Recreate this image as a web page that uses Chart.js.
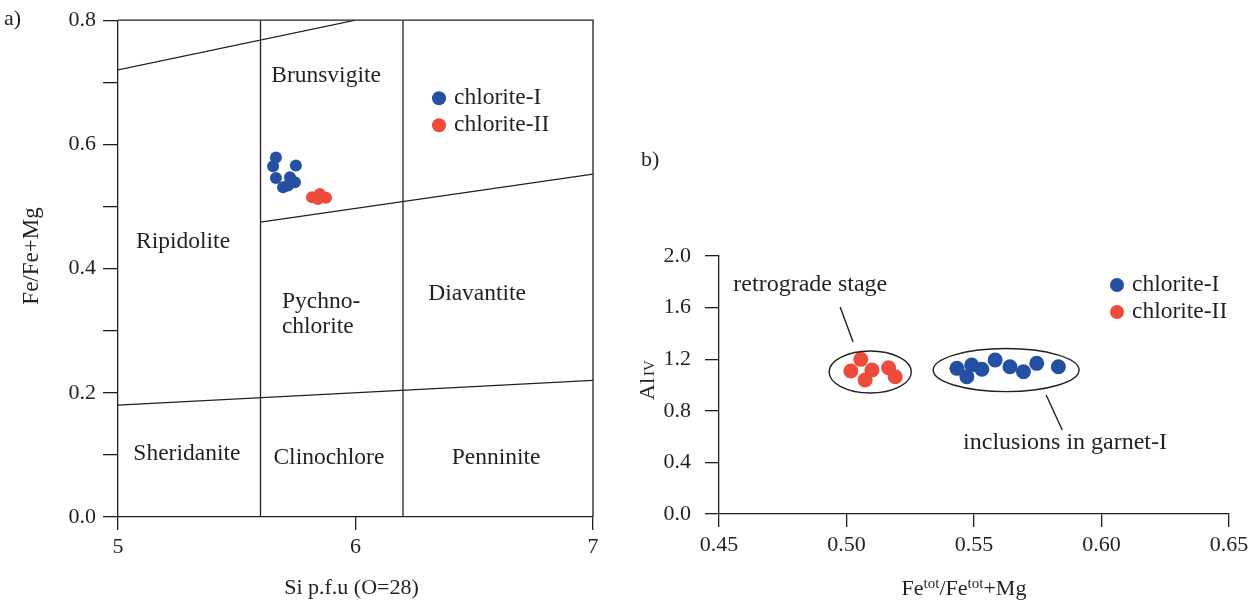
<!DOCTYPE html>
<html>
<head>
<meta charset="utf-8">
<script src="https://cdn.jsdelivr.net/npm/chart.js@4.4.1/dist/chart.umd.min.js"></script>
<style>
  html, body { margin: 0; padding: 0; background: #fff; }
  #wrap { position: relative; width: 1259px; height: 602px; overflow: hidden; }
  #panelA { position: absolute; left: 0; top: 0; }
  #panelB { position: absolute; left: 620px; top: 0; }
</style>
</head>
<body>
<div id="wrap">
  <canvas id="panelA" width="620" height="602"></canvas>
  <canvas id="panelB" width="639" height="602"></canvas>
</div>
<script>
// ---- Panel a: Si (p.f.u.) vs Fe/(Fe+Mg) ----
const chl1Si  = [5.665, 5.653, 5.749, 5.665, 5.695, 5.724, 5.745, 5.716];
const chl1FeA = [0.579, 0.565, 0.566, 0.546, 0.531, 0.547, 0.539, 0.534];
const chl2Si  = [5.817, 5.850, 5.876, 5.842];
const chl2FeA = [0.515, 0.520, 0.514, 0.512];

// classification field boundaries
const upperLineSi  = [5.0, 6.0];   const upperLineFe  = [0.72, 0.80];
const middleLineSi = [5.6, 7.0];   const middleLineFe = [0.475, 0.552];
const lowerLineSi  = [5.0, 7.0];   const lowerLineFe  = [0.18, 0.22];
const divider1Si   = [5.6, 5.6];   const divider1Fe   = [0.0, 0.8];
const divider2Si   = [6.2, 6.2];   const divider2Fe   = [0.0, 0.8];

const siTickValues = [5, 6, 7];

// ---- Panel b: Fe_tot/(Fe_tot+Mg) vs Al(IV) ----
const chl1FeTot = [0.5433, 0.5491, 0.5472, 0.5531, 0.5583, 0.5641, 0.5694, 0.5746, 0.5831];
const chl1AlIV  = [1.129, 1.155, 1.064, 1.122, 1.194, 1.142, 1.103, 1.168, 1.142];
const chl2FeTot = [0.5056, 0.5017, 0.5100, 0.5073, 0.5165, 0.5191];
const chl2AlIV  = [1.199, 1.109, 1.116, 1.039, 1.134, 1.064];

const seriesNames = ['chlorite-I', 'chlorite-II'];

const INK = '#231f20';
const BLUE = '#2450a4';
const RED = '#ef4b3c';
const SERIF = '"Liberation Serif", "Times New Roman", serif';

function pts(xs, ys) { return xs.map((x, i) => ({ x: x, y: ys[i] })); }

function boundary(xs, ys) {
  return {
    data: pts(xs, ys), showLine: true, borderColor: INK, borderWidth: 1.3,
    pointRadius: 0, fill: false, order: 5
  };
}
function series(name, xs, ys, color, r) {
  return {
    label: name, data: pts(xs, ys), showLine: false,
    backgroundColor: color, borderColor: color, pointBorderWidth: 0,
    pointRadius: r, order: 0
  };
}

function axisStyle(extra) {
  return Object.assign({
    type: 'linear',
    grid: { drawOnChartArea: false, drawTicks: true, color: INK, lineWidth: 1.3 },
    border: { display: true, color: INK, width: 1.3 },
  }, extra);
}

function text(ctx, str, x, y, size, align) {
  ctx.save();
  ctx.fillStyle = INK;
  ctx.font = size + 'px ' + SERIF;
  ctx.textAlign = align || 'center';
  ctx.textBaseline = 'middle';
  ctx.fillText(str, x, y);
  ctx.restore();
}

function legend(ctx, x, y, gap, r, size) {
  [BLUE, RED].forEach((c, i) => {
    ctx.save();
    ctx.fillStyle = c;
    ctx.beginPath();
    ctx.arc(x, y + i * gap, r, 0, Math.PI * 2);
    ctx.fill();
    ctx.restore();
    text(ctx, seriesNames[i], x + 15, y + i * gap, size, 'left');
  });
}

// region names inside the classification diagram (data coordinates)
const regionNames = [
  { t: 'Brunsvigite', x: 5.876, y: 0.710 },
  { t: 'Ripidolite',  x: 5.274, y: 0.443 },
  { t: 'Diavantite',  x: 6.512, y: 0.360 },
  { t: 'Sheridanite', x: 5.290, y: 0.101 },
  { t: 'Clinochlore', x: 5.888, y: 0.096 },
  { t: 'Penninite',   x: 6.592, y: 0.096 },
];

const LABEL_SIZE = 23.5;
const TICK_SIZE = 22;

const decorA = {
  id: 'decorA',
  beforeDatasetsDraw(chart) {
    const { ctx, chartArea: a } = chart;
    ctx.save();
    ctx.strokeStyle = INK;
    ctx.lineWidth = 1.3;
    ctx.beginPath();
    ctx.moveTo(a.left, a.top); ctx.lineTo(a.right, a.top); ctx.lineTo(a.right, a.bottom);
    ctx.stroke();
    ctx.restore();
  },
  afterDraw(chart) {
    const { ctx, chartArea: a, scales: { x, y } } = chart;
    regionNames.forEach(r => text(ctx, r.t, x.getPixelForValue(r.x), y.getPixelForValue(r.y), LABEL_SIZE));
    const px = x.getPixelForValue(5.69);
    text(ctx, 'Pychno-', px, y.getPixelForValue(0.347), LABEL_SIZE, 'left');
    text(ctx, 'chlorite', px, y.getPixelForValue(0.307), LABEL_SIZE, 'left');
    legend(ctx, a.left + 321, a.top + 78, 27, 7, LABEL_SIZE);
    text(ctx, 'a)', 4, 19, 22, 'left');
    // axis titles
    ctx.save();
    ctx.translate(a.left - 86, 256);
    ctx.rotate(-Math.PI / 2);
    text(ctx, 'Fe/Fe+Mg', 0, 0, 23);
    ctx.restore();
    text(ctx, 'Si p.f.u (O=28)', (a.left + a.right) / 2 - 4, a.bottom + 71, 22);
  }
};

new Chart(document.getElementById('panelA'), {
  type: 'scatter',
  data: {
    datasets: [
      series(seriesNames[0], chl1Si, chl1FeA, BLUE, 6),
      series(seriesNames[1], chl2Si, chl2FeA, RED, 6),
      boundary(upperLineSi, upperLineFe),
      boundary(middleLineSi, middleLineFe),
      boundary(lowerLineSi, lowerLineFe),
      boundary(divider1Si, divider1Fe),
      boundary(divider2Si, divider2Fe),
    ]
  },
  options: {
    responsive: false, animation: false, events: [],
    layout: { padding: { left: 0, top: 15, right: 27, bottom: 0 } },
    plugins: { legend: { display: false }, tooltip: { enabled: false } },
    scales: {
      x: axisStyle({
        min: 5, max: 7,
        afterBuildTicks: s => { s.ticks = siTickValues.map(v => ({ value: v })); },
        ticks: { color: INK, font: { family: SERIF, size: TICK_SIZE }, padding: 4, callback: v => String(v) },
        grid: { drawOnChartArea: false, color: INK, lineWidth: 1.3, tickLength: 13 },
        afterFit: s => { s.height = 85; }
      }),
      y: axisStyle({
        min: 0, max: 0.8,
        ticks: {
          stepSize: 0.1, color: INK, font: { family: SERIF, size: TICK_SIZE }, padding: 7,
          callback: v => (Math.round(v * 10) % 2 === 0 ? v.toFixed(1) : '')
        },
        grid: { drawOnChartArea: false, color: INK, lineWidth: 1.3, tickLength: 15 },
        afterFit: s => { s.width = 118; }
      })
    }
  },
  plugins: [decorA]
});

// ---- Panel b decorations: group outlines and callouts (data coordinates) ----
const groupOutlines = [
  { cx: 0.5093, cy: 1.101, rx: 0.0161, ry: 0.163 },
  { cx: 0.5626, cy: 1.116, rx: 0.0286, ry: 0.167 },
];
const callouts = [
  { t: 'retrograde stage', tx: 0.4858, ty: 1.775, x1: 0.4975, y1: 1.605, x2: 0.5026, y2: 1.333 },
  { t: 'inclusions in garnet-I', tx: 0.5857, ty: 0.550, x1: 0.5783, y1: 0.922, x2: 0.5846, y2: 0.651 },
];

const decorB = {
  id: 'decorB',
  afterDatasetsDraw(chart) {
    const { ctx, chartArea: a, scales: { x, y } } = chart;
    ctx.save();
    ctx.strokeStyle = INK;
    ctx.lineWidth = 1.4;
    groupOutlines.forEach(e => {
      const cx = x.getPixelForValue(e.cx), cy = y.getPixelForValue(e.cy);
      const rx = Math.abs(x.getPixelForValue(e.cx + e.rx) - cx);
      const ry = Math.abs(y.getPixelForValue(e.cy + e.ry) - cy);
      ctx.beginPath();
      ctx.ellipse(cx, cy, rx, ry, 0, 0, Math.PI * 2);
      ctx.stroke();
    });
    callouts.forEach(c => {
      ctx.beginPath();
      ctx.moveTo(x.getPixelForValue(c.x1), y.getPixelForValue(c.y1));
      ctx.lineTo(x.getPixelForValue(c.x2), y.getPixelForValue(c.y2));
      ctx.stroke();
    });
    ctx.restore();
    callouts.forEach(c => text(ctx, c.t, x.getPixelForValue(c.tx), y.getPixelForValue(c.ty), 24));
    legend(ctx, a.right - 112, a.top + 29, 27, 7, LABEL_SIZE);
    text(ctx, 'b)', 21, 160, 22, 'left');

    // y title: Al with small-cap IV
    ctx.save();
    ctx.translate(a.left - 72, (a.top + a.bottom) / 2 - 5);
    ctx.rotate(-Math.PI / 2);
    ctx.fillStyle = INK;
    ctx.textBaseline = 'alphabetic';
    ctx.font = '22px ' + SERIF;
    const wAl = ctx.measureText('Al').width;
    ctx.font = '15px ' + SERIF;
    const wIV = ctx.measureText('IV').width;
    const sx = -(wAl + 2 + wIV) / 2;
    ctx.font = '22px ' + SERIF;
    ctx.fillText('Al', sx, 7);
    ctx.font = '15px ' + SERIF;
    ctx.fillText('IV', sx + wAl + 2, 7);
    ctx.restore();

    // x title: Fe^tot/Fe^tot+Mg
    const parts = [['Fe', 0], ['tot', 1], ['/Fe', 0], ['tot', 1], ['+Mg', 0]];
    ctx.save();
    ctx.fillStyle = INK;
    ctx.textBaseline = 'alphabetic';
    let total = 0;
    parts.forEach(p => { ctx.font = (p[1] ? 15 : 22) + 'px ' + SERIF; total += ctx.measureText(p[0]).width; });
    let cx = (a.left + a.right) / 2 - 10 - total / 2;
    const base = a.bottom + 81;
    parts.forEach(p => {
      ctx.font = (p[1] ? 15 : 22) + 'px ' + SERIF;
      ctx.fillText(p[0], cx, p[1] ? base - 7 : base);
      cx += ctx.measureText(p[0]).width;
    });
    ctx.restore();
  }
};

new Chart(document.getElementById('panelB'), {
  type: 'scatter',
  data: {
    datasets: [
      series(seriesNames[0], chl1FeTot, chl1AlIV, BLUE, 7.5),
      series(seriesNames[1], chl2FeTot, chl2AlIV, RED, 7.5),
    ]
  },
  options: {
    responsive: false, animation: false, events: [],
    layout: { padding: { left: 0, top: 256, right: 30, bottom: 0 } },
    plugins: { legend: { display: false }, tooltip: { enabled: false } },
    scales: {
      x: axisStyle({
        min: 0.45, max: 0.65,
        ticks: { stepSize: 0.05, color: INK, font: { family: SERIF, size: TICK_SIZE }, padding: 5, callback: v => v.toFixed(2) },
        grid: { drawOnChartArea: false, color: INK, lineWidth: 1.3, tickLength: 13 },
        afterFit: s => { s.height = 88; }
      }),
      y: axisStyle({
        min: 0, max: 2.0,
        ticks: { stepSize: 0.4, color: INK, font: { family: SERIF, size: TICK_SIZE }, padding: 14, callback: v => v.toFixed(1) },
        grid: { drawOnChartArea: false, color: INK, lineWidth: 1.3, tickLength: 14 },
        afterFit: s => { s.width = 99; }
      })
    }
  },
  plugins: [decorB]
});
</script>
</body>
</html>
